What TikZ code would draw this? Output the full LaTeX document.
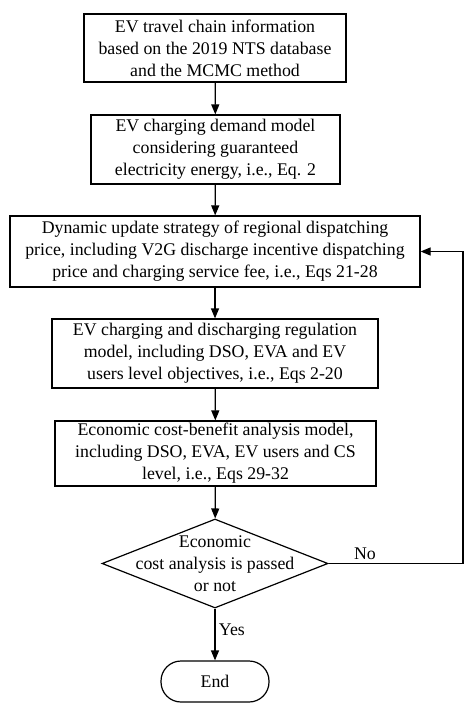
\documentclass[tikz,border=0pt]{standalone}
\usepackage{fontspec}
\setmainfont{Liberation Serif}
\usetikzlibrary{arrows.meta,shapes.geometric}
\begin{document}
\begin{tikzpicture}[x=1pt,y=-1pt,
  txt/.style={font=\fontsize{17.8}{22}\selectfont, align=center},
  procbox/.style={draw, line width=1.2pt, rectangle, inner sep=0pt, txt},
  decision/.style={draw, line width=1.2pt, diamond, inner sep=0pt, minimum width=226pt, minimum height=89pt},
  endbox/.style={draw, line width=1.2pt, rectangle, rounded corners=20pt, inner sep=0pt, minimum width=108pt, minimum height=41pt, txt},
  arr/.style={line width=1.2pt, -{Triangle[length=10pt,width=8pt]}}]
\useasboundingbox (0,0) rectangle (474,719);
\node[procbox, minimum width=262pt, minimum height=68pt] (b1) at (215,48)
  {EV travel chain information\\based on the 2019 NTS database\\and the MCMC method};
\node[procbox, minimum width=249pt, minimum height=69pt] (b2) at (215.5,149.5)
  {EV charging demand model\\considering guaranteed\\electricity energy, i.e., Eq. 2};
\node[procbox, minimum width=410pt, minimum height=71pt] (b3) at (215,251.5)
  {Dynamic update strategy of regional dispatching\\price, including V2G discharge incentive dispatching\\price and charging service fee, i.e., Eqs 21-28};
\node[procbox, minimum width=326pt, minimum height=69pt] (b4) at (215,353.5)
  {EV charging and discharging regulation\\model, including DSO, EVA and EV\\users level objectives, i.e., Eqs 2-20};
\node[procbox, minimum width=321pt, minimum height=65pt] (b5) at (215.5,453.5)
  {Economic cost-benefit analysis model,\\including DSO, EVA, EV users and CS\\level, i.e., Eqs 29-32};
\node[decision, label={[txt]center:Economic\\cost analysis is passed\\or not}] (dec) at (215,563.5) {};
\node[endbox] (end) at (215,681.5) {End};
\coordinate (fb) at (463,563.5);
\draw[arr] (b1) -- (b2);
\draw[arr] (b2) -- (b3);
\draw[arr] (b3) -- (b4);
\draw[arr] (b4) -- (b5);
\draw[arr] (b5) -- (dec);
\draw[arr] (dec) -- node[txt, right, pos=0.4] {Yes} (end);
\draw[arr] (dec.east) -- node[txt, above, pos=0.27] {No} (fb) |- (b3.east);
\end{tikzpicture}
\end{document}
